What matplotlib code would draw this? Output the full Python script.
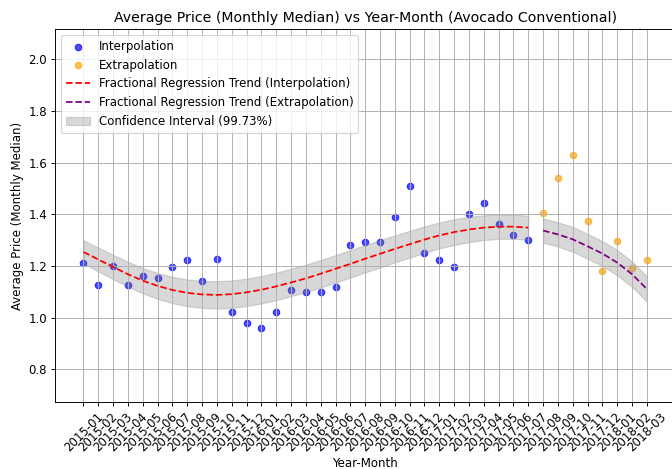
import matplotlib
matplotlib.use("Agg")
import matplotlib.pyplot as plt

# months with observed data (interpolation range) and held-out months (extrapolation)
months_interp = [
    "2015-01", "2015-02", "2015-03", "2015-04", "2015-05", "2015-06", "2015-07",
    "2015-08", "2015-09", "2015-10", "2015-11", "2015-12", "2016-01", "2016-02",
    "2016-03", "2016-04", "2016-05", "2016-06", "2016-07", "2016-08", "2016-09",
    "2016-10", "2016-11", "2016-12", "2017-01", "2017-02", "2017-03", "2017-04",
    "2017-05", "2017-06", "2017-07",
]
months_extrap = [
    "2017-08", "2017-09", "2017-10", "2017-11", "2017-12", "2018-01", "2018-02", "2018-03",
]

price_interp = [
    1.21, 1.128, 1.20, 1.128, 1.161, 1.155, 1.195, 1.222, 1.141, 1.226,
    1.021, 0.978, 0.961, 1.021, 1.107, 1.099, 1.099, 1.117, 1.281, 1.292,
    1.292, 1.391, 1.511, 1.250, 1.222, 1.195, 1.401, 1.442, 1.363, 1.320, 1.302,
]
price_extrap = [1.405, 1.542, 1.628, 1.375, 1.181, 1.295, 1.191, 1.222]

trend_interp = [
    1.254, 1.225, 1.196, 1.168, 1.143, 1.123, 1.107, 1.096, 1.090, 1.088,
    1.091, 1.098, 1.108, 1.121, 1.136, 1.152, 1.170, 1.189, 1.208, 1.228,
    1.247, 1.266, 1.284, 1.302, 1.318, 1.331, 1.341, 1.348, 1.352, 1.352, 1.348,
]
trend_extrap = [1.337, 1.322, 1.303, 1.276, 1.248, 1.213, 1.168, 1.111]

# half width of the 99.73% band
ci_interp = [
    0.045, 0.046, 0.047, 0.048, 0.049, 0.050, 0.051, 0.052, 0.052, 0.053,
    0.053, 0.053, 0.053, 0.053, 0.053, 0.053, 0.053, 0.053, 0.053, 0.053,
    0.053, 0.052, 0.052, 0.051, 0.050, 0.050, 0.049, 0.048, 0.047, 0.047, 0.046,
]
ci_extrap = [0.047, 0.047, 0.048, 0.048, 0.048, 0.049, 0.049, 0.049]

all_prices = price_interp + price_extrap

fig, ax = plt.subplots(figsize=(672 / 85, 469 / 85), dpi=85)
fig.subplots_adjust(left=0.0823, right=1.0045, top=0.9382, bottom=0.1422)

ax.scatter(months_interp, price_interp, color="blue", alpha=0.7, s=30, label="Interpolation")
ax.scatter(months_extrap, price_extrap, color="orange", alpha=0.7, s=30, label="Extrapolation")
ax.plot(months_interp, trend_interp, color="red", linestyle="--",
        label="Fractional Regression Trend (Interpolation)")
ax.plot(months_extrap, trend_extrap, color="purple", linestyle="--",
        label="Fractional Regression Trend (Extrapolation)")

lo_i = [t - c for t, c in zip(trend_interp, ci_interp)]
hi_i = [t + c for t, c in zip(trend_interp, ci_interp)]
lo_e = [t - c for t, c in zip(trend_extrap, ci_extrap)]
hi_e = [t + c for t, c in zip(trend_extrap, ci_extrap)]
ax.fill_between(months_interp, lo_i, hi_i, color="gray", alpha=0.3,
                label="Confidence Interval (99.73%)")
ax.fill_between(months_extrap, lo_e, hi_e, color="gray", alpha=0.3)

ax.set_ylim(min(all_prices) * 0.7, max(all_prices) * 1.3)
ax.set_title("Average Price (Monthly Median) vs Year-Month (Avocado Conventional)")
ax.set_xlabel("Year-Month", labelpad=2)
ax.set_ylabel("Average Price (Monthly Median)")
ax.tick_params(axis="x", labelrotation=45)
ax.grid(True)
ax.legend(loc="upper left")

fig.savefig("out.png", dpi=85)
